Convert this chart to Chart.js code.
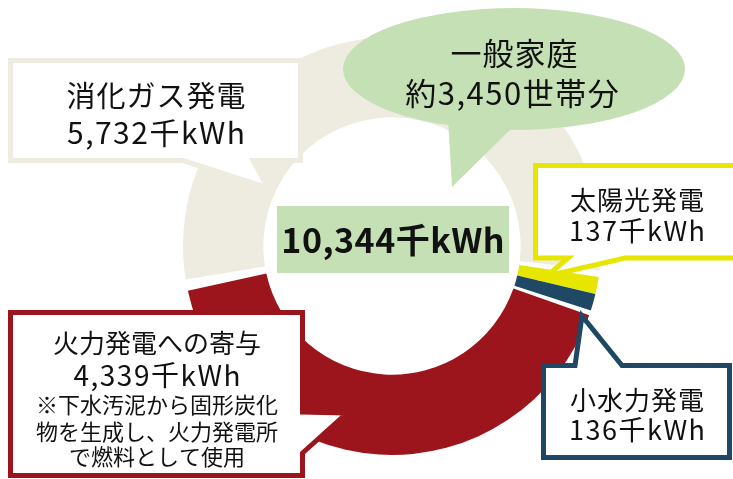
<!DOCTYPE html>
<html>
<head>
<meta charset="utf-8">
<script src="https://cdn.jsdelivr.net/npm/chart.js"></script>
<style>
  html, body { margin: 0; padding: 0; background: #fff; }
  #wrap { width: 733px; height: 479px; }
</style>
</head>
<body>
<div id="wrap"><canvas id="donut" width="733" height="479"></canvas></div>
<script>
// data
const categories = ['消化ガス発電', '太陽光発電', '小水力発電', '火力発電への寄与'];
const values = [5732, 137, 136, 4339];
const colors = ['#EEECE1', '#E6E600', '#1F4864', '#9C141C'];
const households = 3450;
const unit = '千kWh';
const note = ['※下水汚泥から固形炭化', '物を生成し、火力発電所', 'で燃料として使用'];

const total = values.reduce((a, b) => a + b, 0);
const fmt = n => n.toLocaleString('en-US');
const FONT = '"Noto Sans CJK JP", "Noto Sans", sans-serif';

function poly(ctx, pts, fill, stroke, lw) {
    ctx.beginPath();
    ctx.moveTo(pts[0][0], pts[0][1]);
    for (let i = 1; i < pts.length; i++) ctx.lineTo(pts[i][0], pts[i][1]);
    ctx.closePath();
    ctx.fillStyle = fill;
    ctx.fill();
    if (stroke) {
        ctx.lineWidth = lw;
        ctx.lineJoin = 'miter';
        ctx.strokeStyle = stroke;
        ctx.stroke();
    }
}

function text(ctx, str, x, y, size, bold, spacing) {
    ctx.font = (bold ? 'bold ' : '') + size + 'px ' + FONT;
    ctx.letterSpacing = (spacing || 0) + 'px';
    ctx.fillStyle = '#111';
    ctx.textAlign = 'center';
    ctx.textBaseline = 'middle';
    ctx.fillText(str, x + (spacing || 0) / 2, y);
}

const calloutPlugin = {
    id: 'callouts',
    afterDraw(chart) {
        const ctx = chart.ctx;
        ctx.save();

        // 消化ガス発電
        poly(ctx, [[10.5, 60.5], [300.5, 60.5], [300.5, 160.5], [253, 160.5], [268, 188], [183, 160.5], [10.5, 160.5]],
            '#fff', colors[0], 5);
        text(ctx, categories[0], 156, 96, 29, false, 1);
        text(ctx, fmt(values[0]) + unit, 156, 133, 30, false, 1.5);

        // 一般家庭
        ctx.beginPath();
        ctx.ellipse(514, 69, 171, 61, 0, 0, Math.PI * 2);
        ctx.fillStyle = '#C5E0B4';
        ctx.fill();
        poly(ctx, [[448, 118], [514, 126], [452, 187]], '#C5E0B4');
        text(ctx, '一般家庭', 514, 53, 31, false, 1);
        text(ctx, '約' + fmt(households) + '世帯分', 512, 93, 31, false, 1.5);

        // 太陽光発電
        poly(ctx, [[535.5, 165.5], [745, 165.5], [745, 258], [625, 258], [547, 276], [568, 258], [535.5, 258]],
            '#fff', colors[1], 5);
        text(ctx, categories[1], 637, 200, 26, false, 1);
        text(ctx, fmt(values[1]) + unit, 637, 231, 27, false, 1.5);

        // 小水力発電
        poly(ctx, [[543.5, 365.5], [575, 365.5], [582, 316], [622, 365.5], [729.5, 365.5], [729.5, 457.5], [543.5, 457.5]],
            '#fff', colors[2], 5);
        text(ctx, categories[2], 637, 400, 26, false, 1);
        text(ctx, fmt(values[2]) + unit, 637, 430, 27, false, 1.5);

        // 火力発電への寄与
        poly(ctx, [[10.5, 312.5], [302.5, 312.5], [302.5, 412], [347, 413], [302.5, 453], [302.5, 475.5], [10.5, 475.5]],
            '#fff', colors[3], 5);
        text(ctx, categories[3], 157, 343, 26, false, 0);
        text(ctx, fmt(values[3]) + unit, 157, 375, 28, false, 1.5);
        text(ctx, note[0], 157, 405, 22, false, 0);
        text(ctx, note[1], 157, 432, 22, false, 0);
        text(ctx, note[2], 157, 457, 22, false, 0);

        // total
        ctx.fillStyle = '#C5E0B4';
        ctx.fillRect(277, 206, 232, 67);
        text(ctx, fmt(total) + unit, 393, 240, 34, true, 0.5);

        ctx.restore();
    }
};

new Chart(document.getElementById('donut'), {
    type: 'doughnut',
    data: {
        labels: categories,
        datasets: [{
            data: values,
            backgroundColor: colors,
            borderWidth: 0,
            spacing: 6
        }]
    },
    options: {
        responsive: false,
        animation: false,
        rotation: 259,
        cutout: '61%',
        layout: { padding: { left: 51, right: 0, top: 37, bottom: 24 } },
        plugins: {
            legend: { display: false },
            tooltip: { enabled: false }
        }
    },
    plugins: [calloutPlugin]
});
</script>
</body>
</html>
